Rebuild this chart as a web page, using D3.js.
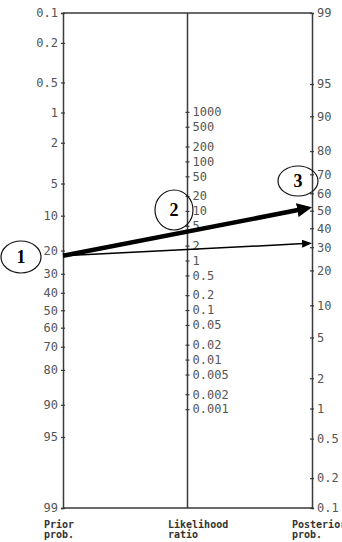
<!DOCTYPE html>
<html>
<head>
<meta charset="utf-8">
<style>
  body { margin: 0; background: #fff; }
  svg { display: block; }
</style>
</head>
<body>
<script src="https://cdn.jsdelivr.net/npm/d3@7"></script>
<svg width="342" height="542"></svg>
<script>
// tick values on each of the three scales
const priorTicks = [0.1, 0.2, 0.5, 1, 2, 5, 10, 20, 30, 40, 50, 60, 70, 80, 90, 95, 99]
const ratioTicks = [1000, 500, 200, 100, 50, 20, 10, 5, 2, 1, 0.5, 0.2, 0.1, 0.05, 0.02, 0.01, 0.005, 0.002, 0.001]
const posteriorTicks = [99, 95, 90, 80, 70, 60, 50, 40, 30, 20, 10, 5, 2, 1, 0.5, 0.2, 0.1]

// the two arrows: prior % -> posterior %
const arrowPrior = [22, 22]
const arrowPosterior = [52, 32]
const arrowNames = ["thick", "thin"]

// numbered call-outs
const calloutLabels = ["1", "2", "3"]

const axisNames = [["Prior", "prob."], ["Likelihood", "ratio"], ["Posterior", "prob."]]

const svg = d3.select("svg")
const yTop = 13, yBottom = 508
const xLeft = 63, xRight = 312, xMid = (xLeft + xRight) / 2
const logit = p => Math.log((p / 100) / (1 - p / 100))

// probability scales are linear in logit space
const priorLin = d3.scaleLinear().domain([logit(0.1), logit(99)]).range([yTop, yBottom])
const postLin = d3.scaleLinear().domain([logit(99), logit(0.1)]).range([yTop, yBottom])
const yPrior = p => priorLin(logit(p))
const yPost = p => postLin(logit(p))

// middle line sits halfway, so ln(LR) runs at half the logit slope
const slope = (yBottom - yTop) / (logit(99) - logit(0.1))
const mid1 = (yPrior(50) + yPost(50)) / 2
const midAt = lr => mid1 - slope / 2 * Math.log(lr)
const yRatio = d3.scaleLog().domain([1000, 0.001]).range([midAt(1000), midAt(0.001)])

const ink = "#3a3a3a"
const labelFill = "#555"
const mono = "'DejaVu Sans Mono', monospace"

// frame: top and bottom rails, middle line
svg.append("path")
    .attr("d", `M${xLeft},${yTop}H${xRight}M${xLeft},${yBottom}H${xRight}M${xMid},${yTop}V${yBottom}`)
    .attr("fill", "none").attr("stroke", ink).attr("stroke-width", 1.5)

function drawAxis(axisFn, scale, ticks, x) {
    const g = svg.append("g")
        .attr("transform", `translate(${x},0)`)
        .call(axisFn(scale).tickValues(ticks).tickSize(2).tickPadding(3).tickFormat(d => String(d)))
    g.select(".domain").attr("stroke", ink).attr("stroke-width", 1.5)
    g.selectAll(".tick line").attr("stroke", ink).attr("stroke-width", 1.2).attr("x1", -2).attr("x2", 2)
    g.selectAll(".tick text").attr("fill", labelFill).style("font-family", mono).style("font-size", "12px")
    return g
}
drawAxis(d3.axisLeft, priorLin, priorTicks.map(logit), xLeft)
    .selectAll(".tick text").text((d, i) => priorTicks[i])
drawAxis(d3.axisRight, yRatio, ratioTicks, xMid)
    .select(".domain").remove()
drawAxis(d3.axisRight, postLin, posteriorTicks.map(logit), xRight)
    .selectAll(".tick text").text((d, i) => posteriorTicks[i])

// arrow heads
const defs = svg.append("defs")
const heads = { thick: { len: 15, half: 7, w: 4.5 }, thin: { len: 10, half: 4, w: 1.5 } }
Object.entries(heads).forEach(([k, h]) => {
    defs.append("marker")
        .attr("id", "head-" + k)
        .attr("markerUnits", "userSpaceOnUse")
        .attr("viewBox", `0 ${-h.half} ${h.len} ${h.half * 2}`)
        .attr("refX", h.len).attr("refY", 0)
        .attr("markerWidth", h.len).attr("markerHeight", h.half * 2)
        .attr("orient", "auto")
        .append("path")
        .attr("d", `M0,${-h.half}L${h.len},0L0,${h.half}Z`)
        .attr("fill", "#000")
})

arrowPrior.forEach((p, i) => {
    const h = heads[arrowNames[i]]
    const x1 = xLeft, y1 = yPrior(p), x2 = xRight, y2 = yPost(arrowPosterior[i])
    const a = Math.atan2(y2 - y1, x2 - x1)
    svg.append("line")
        .attr("x1", x1).attr("y1", y1)
        .attr("x2", x2 - Math.cos(a) * (h.len - 2)).attr("y2", y2 - Math.sin(a) * (h.len - 2))
        .attr("stroke", "#000").attr("stroke-width", h.w)
    svg.append("path")
        .attr("d", `M${x2 - Math.cos(a) * h.len},${y2 - Math.sin(a) * h.len}L${x2},${y2}`)
        .attr("stroke", "none")
        .attr("marker-end", `url(#head-${arrowNames[i]})`)
})

// circled numbers
const callouts = [
    { cx: 21, cy: 257, rx: 20, ry: 16 },
    { cx: 174, cy: 210, rx: 19, ry: 20 },
    { cx: 298, cy: 181, rx: 20, ry: 15 }
]
callouts.forEach((c, i) => {
    svg.append("ellipse")
        .attr("cx", c.cx).attr("cy", c.cy).attr("rx", c.rx).attr("ry", c.ry)
        .attr("fill", "none").attr("stroke", "#111").attr("stroke-width", 1.2)
    svg.append("text")
        .attr("x", c.cx).attr("y", c.cy + 6)
        .attr("text-anchor", "middle")
        .style("font-family", "'Liberation Serif', serif")
        .style("font-weight", "bold").style("font-size", "18px")
        .text(calloutLabels[i])
})

// axis captions under the frame
const captionX = [44, 168, 292]
axisNames.forEach((lines, i) => {
    lines.forEach((t, j) => {
        svg.append("text")
            .attr("x", captionX[i]).attr("y", 528 + j * 10)
            .attr("fill", "#333")
            .style("font-family", mono).style("font-weight", "bold").style("font-size", "10px")
            .text(t)
    })
})
</script>
</body>
</html>
